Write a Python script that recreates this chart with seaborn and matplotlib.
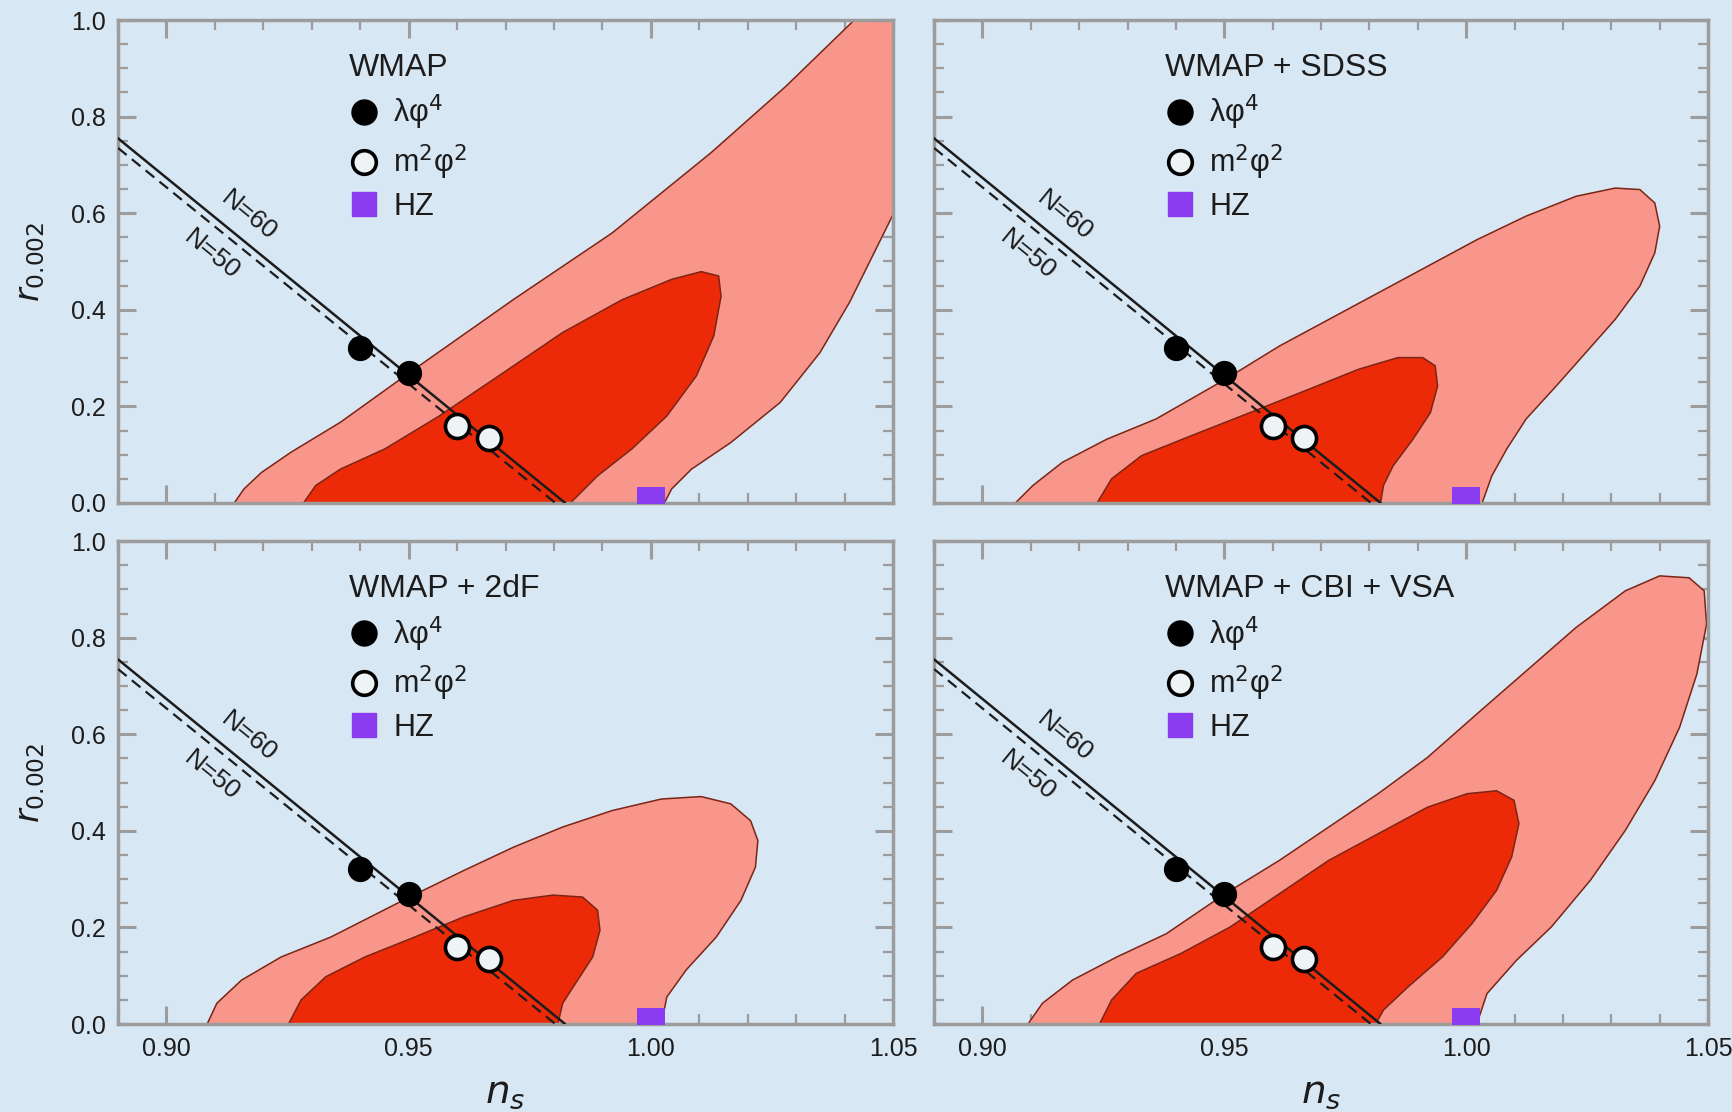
import numpy as np
import pandas as pd
import matplotlib
matplotlib.use("Agg")
import matplotlib.pyplot as plt
import seaborn as sns
from matplotlib.lines import Line2D
from matplotlib.ticker import MultipleLocator

# panel titles
titles = ["WMAP", "WMAP + SDSS", "WMAP + 2dF", "WMAP + CBI + VSA"]

# 95% / 68% contour outlines (n_s, r)
wmap_95_ns = [0.9140, 0.9160, 0.9196, 0.9257, 0.9359, 0.9502, 0.9716, 0.9920, 1.0124, 1.0278, 1.0420,
              1.0600, 1.0600, 1.0461, 1.0410, 1.0349, 1.0267, 1.0165, 1.0084, 1.0043, 1.0028]
wmap_95_r = [0.000, 0.029, 0.063, 0.105, 0.167, 0.270, 0.421, 0.559, 0.725, 0.862, 1.000,
             1.100, 0.800, 0.518, 0.415, 0.311, 0.208, 0.125, 0.070, 0.029, 0.000]
wmap_68_ns = [0.9283, 0.9308, 0.9359, 0.9451, 0.9563, 0.9696, 0.9818, 0.9941, 1.0043, 1.0104, 1.0140,
              1.0145, 1.0130, 1.0094, 1.0033, 0.9961, 0.9890, 0.9834]
wmap_68_r = [0.000, 0.036, 0.070, 0.112, 0.180, 0.270, 0.353, 0.421, 0.463, 0.479, 0.470,
             0.428, 0.346, 0.263, 0.180, 0.112, 0.056, 0.000]

sdss_95_ns = [0.9068, 0.9104, 0.9165, 0.9257, 0.9359, 0.9502, 0.9614, 0.9716, 0.9818, 0.9920, 1.0022,
              1.0124, 1.0227, 1.0308, 1.0359, 1.0390, 1.0400, 1.0390, 1.0359, 1.0308, 1.0247, 1.0186,
              1.0124, 1.0084, 1.0053, 1.0033]
sdss_95_r = [0.000, 0.036, 0.084, 0.132, 0.174, 0.256, 0.325, 0.380, 0.435, 0.490, 0.545,
             0.594, 0.635, 0.652, 0.649, 0.621, 0.573, 0.518, 0.449, 0.380, 0.311, 0.242,
             0.174, 0.112, 0.056, 0.000]
sdss_68_ns = [0.9237, 0.9267, 0.9329, 0.9431, 0.9553, 0.9676, 0.9778, 0.9859, 0.9910, 0.9936, 0.9941,
              0.9926, 0.9890, 0.9849, 0.9829, 0.9823]
sdss_68_r = [0.000, 0.050, 0.098, 0.139, 0.187, 0.236, 0.277, 0.301, 0.301, 0.284, 0.242,
             0.187, 0.132, 0.077, 0.036, 0.000]

twodf_95_ns = [0.9084, 0.9104, 0.9155, 0.9237, 0.9339, 0.9502, 0.9614, 0.9716, 0.9818, 0.9920, 1.0022,
               1.0104, 1.0165, 1.0206, 1.0221, 1.0216, 1.0186, 1.0135, 1.0073, 1.0033, 1.0022]
twodf_95_r = [0.000, 0.043, 0.091, 0.139, 0.180, 0.263, 0.318, 0.366, 0.408, 0.442, 0.466,
              0.471, 0.456, 0.421, 0.380, 0.325, 0.256, 0.180, 0.112, 0.056, 0.000]
twodf_68_ns = [0.9252, 0.9278, 0.9329, 0.9410, 0.9512, 0.9614, 0.9716, 0.9798, 0.9859, 0.9890, 0.9895,
               0.9880, 0.9849, 0.9818, 0.9808]
twodf_68_r = [0.000, 0.050, 0.098, 0.139, 0.180, 0.222, 0.256, 0.267, 0.263, 0.236, 0.194,
              0.139, 0.091, 0.043, 0.000]

cbi_95_ns = [0.9094, 0.9124, 0.9186, 0.9278, 0.9380, 0.9502, 0.9614, 0.9716, 0.9818, 0.9920, 1.0022,
             1.0124, 1.0227, 1.0329, 1.0400, 1.0461, 1.0492, 1.0497, 1.0477, 1.0441, 1.0390, 1.0329,
             1.0257, 1.0176, 1.0104, 1.0043, 1.0022]
cbi_95_r = [0.000, 0.043, 0.091, 0.139, 0.187, 0.270, 0.339, 0.408, 0.477, 0.552, 0.642,
            0.731, 0.821, 0.897, 0.928, 0.924, 0.897, 0.828, 0.725, 0.614, 0.504, 0.401,
            0.298, 0.201, 0.132, 0.063, 0.000]
cbi_68_ns = [0.9242, 0.9267, 0.9318, 0.9410, 0.9512, 0.9614, 0.9716, 0.9818, 0.9920, 1.0002, 1.0063,
             1.0099, 1.0109, 1.0094, 1.0063, 1.0012, 0.9951, 0.9880, 0.9829, 0.9813]
cbi_68_r = [0.000, 0.050, 0.105, 0.146, 0.201, 0.270, 0.339, 0.394, 0.449, 0.477, 0.483,
            0.463, 0.415, 0.346, 0.277, 0.208, 0.139, 0.077, 0.029, 0.000]

contours = [
    (wmap_95_ns, wmap_95_r, wmap_68_ns, wmap_68_r),
    (sdss_95_ns, sdss_95_r, sdss_68_ns, sdss_68_r),
    (twodf_95_ns, twodf_95_r, twodf_68_ns, twodf_68_r),
    (cbi_95_ns, cbi_95_r, cbi_68_ns, cbi_68_r),
]

# model predictions
phi4_ns = [0.94, 0.95]
phi4_r = [0.32, 0.27]
phi2_ns = [0.96, 0.9665]
phi2_r = [0.16, 0.135]
hz_ns = [1.0]
hz_r = [0.004]

# e-fold lines
n60_ns = [0.89, 0.9823]
n60_r = [0.755, 0.0]
n50_ns = [0.89, 0.9803]
n50_r = [0.735, 0.0]
n60_label = (0.9170, 0.594)
n50_label = (0.9094, 0.515)

x_ticks = [0.90, 0.95, 1.00, 1.05]
x_ticklabels = ["0.90", "0.95", "1.00", "1.05"]
y_ticks = [0.0, 0.2, 0.4, 0.6, 0.8, 1.0]
y_ticklabels = ["0.0", "0.2", "0.4", "0.6", "0.8", "1.0"]

# style
sns.set_theme(style="ticks")
plt.rcParams["font.family"] = ["Liberation Sans", "DejaVu Sans"]
plt.rcParams["mathtext.fontset"] = "dejavusans"

bg = "#d8e7f4"
pink = "#f9968b"
red = "#ec2a08"
edge = "#7a2515"
grey = "#9c9c9c"
ink = "#1c1c1c"

fig = plt.figure(figsize=(17.33, 11.12), dpi=100, facecolor=bg)
positions = [
    [0.0681, 0.5477, 0.4472, 0.4343],
    [0.5390, 0.5477, 0.4466, 0.4343],
    [0.0681, 0.0791, 0.4472, 0.4343],
    [0.5390, 0.0791, 0.4466, 0.4343],
]

for i, pos in enumerate(positions):
    ax = fig.add_axes(pos)
    ax.set_facecolor(bg)
    ax.set_xlim(0.89, 1.05)
    ax.set_ylim(0.0, 1.0)

    o_ns, o_r, in_ns, in_r = contours[i]
    ax.fill(o_ns, o_r, facecolor=pink, edgecolor=edge, linewidth=1.1, zorder=1)
    ax.fill(in_ns, in_r, facecolor=red, edgecolor=edge, linewidth=1.1, zorder=1.5)

    sns.lineplot(x=n60_ns, y=n60_r, ax=ax, color=ink, linewidth=1.8, sort=False, zorder=3)
    sns.lineplot(x=n50_ns, y=n50_r, ax=ax, color=ink, linewidth=1.6, linestyle=(0, (5, 3)),
                 sort=False, zorder=3)

    # rotate line labels to follow the lines on screen
    p0 = ax.transData.transform((n60_ns[0], n60_r[0]))
    p1 = ax.transData.transform((n60_ns[1], n60_r[1]))
    ang = np.degrees(np.arctan2(p1[1] - p0[1], p1[0] - p0[0]))
    ax.text(*n60_label, "N=60", rotation=ang, ha="center", va="center",
            fontsize=19, color=ink, rotation_mode="anchor")
    ax.text(*n50_label, "N=50", rotation=ang, ha="center", va="center",
            fontsize=19, color=ink, rotation_mode="anchor")

    sns.scatterplot(x=phi4_ns, y=phi4_r, ax=ax, color="black", s=330, marker="o",
                    linewidth=0, zorder=5)
    sns.scatterplot(x=phi2_ns, y=phi2_r, ax=ax, color="#eef3f6", s=300, marker="o",
                    edgecolor="black", linewidth=2.6, zorder=5)
    sns.scatterplot(x=hz_ns, y=hz_r, ax=ax, color="#8a3cf0", s=420, marker="s",
                    linewidth=0, zorder=5)

    handles = [
        Line2D([], [], marker="o", ls="", color="black", markersize=18),
        Line2D([], [], marker="o", ls="", markerfacecolor="#eef3f6", markeredgecolor="black",
               markeredgewidth=2.6, markersize=17),
        Line2D([], [], marker="s", ls="", color="#8a3cf0", markersize=17),
    ]
    leg = ax.legend(handles, ["λφ$^{4}$", "m$^{2}$φ$^{2}$", "HZ"],
                    title=titles[i], loc="upper left", bbox_to_anchor=(0.298, 0.932),
                    frameon=False, fontsize=22, title_fontsize=23, alignment="left",
                    borderpad=0, borderaxespad=0, handlelength=1.0, handletextpad=0.45,
                    labelspacing=0.33)
    for t in leg.get_texts():
        t.set_color(ink)
    leg.get_title().set_color(ink)

    ax.set_xticks(x_ticks)
    ax.set_yticks(y_ticks)
    ax.xaxis.set_minor_locator(MultipleLocator(0.01))
    ax.yaxis.set_minor_locator(MultipleLocator(0.05))
    ax.tick_params(which="both", direction="in", top=True, right=True, color=grey,
                   labelsize=18, labelcolor=ink)
    ax.tick_params(which="major", length=13, width=2.2, pad=9)
    ax.tick_params(which="minor", length=7, width=1.6)
    for sp in ax.spines.values():
        sp.set_color(grey)
        sp.set_linewidth(2.5)

    if i >= 2:
        ax.set_xticklabels(x_ticklabels)
        ax.set_xlabel(r"$n_s$", fontsize=28, color=ink)
        ax.xaxis.set_label_coords(0.5, -0.105)
    else:
        ax.set_xticklabels([])
        ax.set_xlabel("")
    if i % 2 == 0:
        ax.set_yticklabels(y_ticklabels)
        ax.set_ylabel(r"$r_{0.002}$", fontsize=24, color=ink)
        ax.yaxis.set_label_coords(-0.092, 0.5)
    else:
        ax.set_yticklabels([])
        ax.set_ylabel("")

fig.savefig("out.png", dpi=100, facecolor=bg)
